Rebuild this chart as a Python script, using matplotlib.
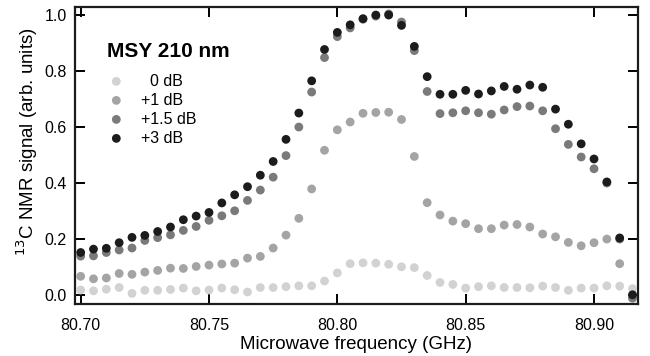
#!/usr/bin/env python3
"""13C NMR signal vs microwave frequency, MSY 210 nm, four power levels."""

import numpy as np
import matplotlib
matplotlib.use('Agg')
import matplotlib.pyplot as plt

# frequency grid: 80.700 ... 80.915 GHz in 5 MHz steps (44 points)
freq = np.round(np.arange(80.700, 80.9151, 0.005), 3)

sig_0db = [0.018, 0.015, 0.021, 0.027, 0.006, 0.017, 0.017, 0.020, 0.025, 0.015,
           0.018, 0.025, 0.019, 0.011, 0.027, 0.027, 0.030, 0.033, 0.033, 0.050,
           0.079, 0.112, 0.115, 0.114, 0.110, 0.101, 0.098, 0.070, 0.045, 0.038,
           0.025, 0.030, 0.033, 0.027, 0.027, 0.026, 0.032, 0.027, 0.017, 0.025,
           0.025, 0.033, 0.032, 0.023]
sig_1db = [0.067, 0.058, 0.061, 0.077, 0.074, 0.082, 0.088, 0.096, 0.095, 0.102,
           0.107, 0.111, 0.114, 0.132, 0.138, 0.168, 0.214, 0.274, 0.379, 0.517,
           0.590, 0.618, 0.649, 0.652, 0.653, 0.627, 0.495, 0.330, 0.286, 0.264,
           0.255, 0.237, 0.237, 0.250, 0.252, 0.243, 0.218, 0.208, 0.188, 0.176,
           0.187, 0.200, 0.112, -0.012]
sig_15db = [0.139, 0.140, 0.152, 0.161, 0.168, 0.195, 0.205, 0.215, 0.231, 0.245,
            0.267, 0.283, 0.301, 0.338, 0.375, 0.421, 0.498, 0.600, 0.725, 0.848,
            0.923, 0.954, 0.985, 0.996, 1.004, 0.975, 0.873, 0.727, 0.648, 0.651,
            0.658, 0.651, 0.646, 0.661, 0.673, 0.675, 0.658, 0.594, 0.538, 0.493,
            0.451, 0.400, 0.200, -0.010]
sig_3db = [0.152, 0.164, 0.167, 0.187, 0.206, 0.213, 0.227, 0.243, 0.269, 0.282,
           0.295, 0.329, 0.358, 0.387, 0.428, 0.477, 0.556, 0.650, 0.765, 0.877,
           0.938, 0.965, 0.987, 1.000, 1.000, 0.963, 0.888, 0.780, 0.717, 0.717,
           0.731, 0.718, 0.729, 0.745, 0.735, 0.750, 0.742, 0.664, 0.610, 0.540,
           0.486, 0.404, 0.204, 0.001]

labels = ['  0 dB', '+1 dB', '+1.5 dB', '+3 dB']
colors = ['#d2d2d2', '#a4a4a4', '#7a7a7a', '#1c1c1c']
x_ticks = [80.70, 80.75, 80.80, 80.85, 80.90]
y_ticks = [0.0, 0.2, 0.4, 0.6, 0.8, 1.0]

plt.rcParams['font.family'] = ['Liberation Sans', 'DejaVu Sans']

fig = plt.figure(figsize=(6.5, 3.56), dpi=100)
ax = fig.add_axes([0.1154, 0.146, 0.866, 0.833])

for sig, lab, col in zip([sig_0db, sig_1db, sig_15db, sig_3db], labels, colors):
    ax.scatter(freq, sig, s=40, color=col, edgecolors='none', label=lab, zorder=3)

ax.set_xlim(80.6978, 80.9171)
ax.set_ylim(-0.032, 1.027)
ax.set_xticks(x_ticks)
ax.set_xticklabels([f'{t:.2f}' for t in x_ticks])
ax.set_yticks(y_ticks)
ax.set_yticklabels([f'{t:.1f}' for t in y_ticks])

ax.tick_params(direction='in', length=7, width=1.4, labelsize=11.5,
               top=True, right=True, labeltop=False, labelright=False)
ax.tick_params(axis='x', pad=10)
ax.tick_params(axis='y', pad=6)
for sp in ax.spines.values():
    sp.set_linewidth(1.6)
    sp.set_color('#1c1c1c')

ax.set_xlabel('Microwave frequency (GHz)', fontsize=13.5, labelpad=2)
ax.set_ylabel('$^{13}$C NMR signal (arb. units)', fontsize=13.5)
ax.yaxis.set_label_coords(-0.062, 0.546)

# sample title sits above the legend entries
ax.text(0.057, 0.850, 'MSY 210 nm', transform=ax.transAxes, fontsize=15,
        fontweight='bold', va='center', ha='left')
ax.legend(loc='upper left', bbox_to_anchor=(0.045, 0.777),
          frameon=False, fontsize=11.5, handletextpad=0.55, labelspacing=0.25,
          borderaxespad=0, borderpad=0)

fig.savefig('out.png', dpi=100, facecolor='white')
plt.close(fig)
